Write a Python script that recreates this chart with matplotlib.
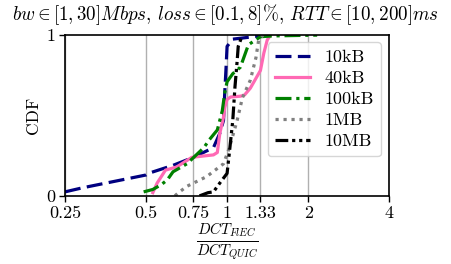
import numpy as np
import matplotlib
matplotlib.use("Agg")
import matplotlib.pyplot as plt

plt.rcParams['font.family'] = 'serif'
plt.rcParams['font.serif'] = ['cmr10']
plt.rcParams['mathtext.fontset'] = 'cm'
plt.rcParams['axes.formatter.use_mathtext'] = True

# ratio DCT_FlEC / DCT_QUIC and CDF
x_10kb = [0.25, 0.29, 0.50, 0.51, 0.63, 0.75, 0.89, 0.94, 0.97, 0.98, 0.99, 1.0, 1.05, 1.41]
y_10kb = [0.025, 0.05, 0.13, 0.14, 0.19, 0.24, 0.30, 0.39, 0.47, 0.64, 0.78, 0.93, 0.975, 1.0]

x_40kb = [0.53, 0.55, 0.58, 0.59, 0.65, 0.74, 0.89, 0.92, 0.94, 0.97, 0.98, 1.0, 1.03, 1.12,
          1.16, 1.22, 1.33, 1.37, 1.41, 1.45]
y_40kb = [0.02, 0.08, 0.14, 0.16, 0.18, 0.24, 0.255, 0.27, 0.39, 0.49, 0.55, 0.60, 0.615, 0.62,
          0.627, 0.67, 0.78, 0.89, 0.97, 1.0]

x_100kb = [0.49, 0.53, 0.57, 0.60, 0.63, 0.71, 0.82, 0.86, 0.92, 0.96, 0.98, 1.0, 1.05, 1.12,
           1.20, 1.33, 1.48, 2.16]
y_100kb = [0.025, 0.04, 0.07, 0.10, 0.15, 0.20, 0.30, 0.35, 0.41, 0.53, 0.64, 0.71, 0.76, 0.80,
           0.94, 0.99, 0.995, 1.0]

x_1mb = [0.64, 0.66, 0.71, 0.84, 0.97, 1.02, 1.09, 1.14, 1.22, 1.28, 1.31, 1.36]
y_1mb = [0.0, 0.02, 0.06, 0.12, 0.20, 0.30, 0.47, 0.61, 0.72, 0.86, 0.97, 1.0]

x_10mb = [0.79, 0.85, 0.89, 0.94, 1.0, 1.02, 1.05, 1.07, 1.09, 1.10, 1.14]
y_10mb = [0.0, 0.02, 0.025, 0.08, 0.14, 0.27, 0.47, 0.68, 0.84, 0.93, 1.0]

ticks = [0.25, 0.5, 0.75, 1, 1.33, 2, 4]
tick_labels = ['0.25', '0.5', '0.75', '1', '1.33', '2', '4']

fig = plt.figure(figsize=(4.51, 2.64), dpi=100)
ax = fig.add_axes([0.144, 0.258, 0.719, 0.609])

lw = 2.3
ax.plot(x_10kb, y_10kb, color='#000080', lw=lw, ls=(0, (5, 2)), label='10kB')
ax.plot(x_40kb, y_40kb, color='#ff69b4', lw=lw, ls='-', label='40kB')
ax.plot(x_100kb, y_100kb, color='green', lw=lw, ls=(0, (5, 1.5, 1, 1.5)), label='100kB')
ax.plot(x_1mb, y_1mb, color='gray', lw=lw, ls=(0, (1, 1.5)), label='1MB')
ax.plot(x_10mb, y_10mb, color='black', lw=lw, ls=(0, (4, 1.2, 1, 1.2, 1, 1.2)), label='10MB')

ax.set_xscale('log', base=2)
ax.set_xlim(0.25, 4)
ax.set_ylim(0, 1)
ax.set_xticks(ticks)
ax.set_xticklabels(tick_labels)
ax.minorticks_off()
ax.set_yticks([0, 1])
ax.set_yticklabels(['0', '1'])
ax.tick_params(labelsize=13, direction='out', length=4, width=1, pad=3)
ax.grid(axis='x', color='#b0b0b0', lw=1)
for s in ax.spines.values():
    s.set_linewidth(1.2)

ax.set_ylabel('CDF', fontsize=12.5, labelpad=4)
ax.set_xlabel(r'$\frac{DCT_{FlEC}}{DCT_{QUIC}}$', fontsize=15.5, labelpad=0)
fig.text(0.5, 0.945, r'$bw \in [1,30] Mbps$, $loss \in [0.1,8]\%$, $RTT \in [10,200] ms$',
         ha='center', va='center', fontsize=13.7)

ax.legend(loc='upper right', fontsize=13, handlelength=1.95, handletextpad=0.8,
          labelspacing=0.3, borderaxespad=0, bbox_to_anchor=(0.975, 0.957),
          framealpha=0.8)

fig.savefig('out.png', dpi=100)
